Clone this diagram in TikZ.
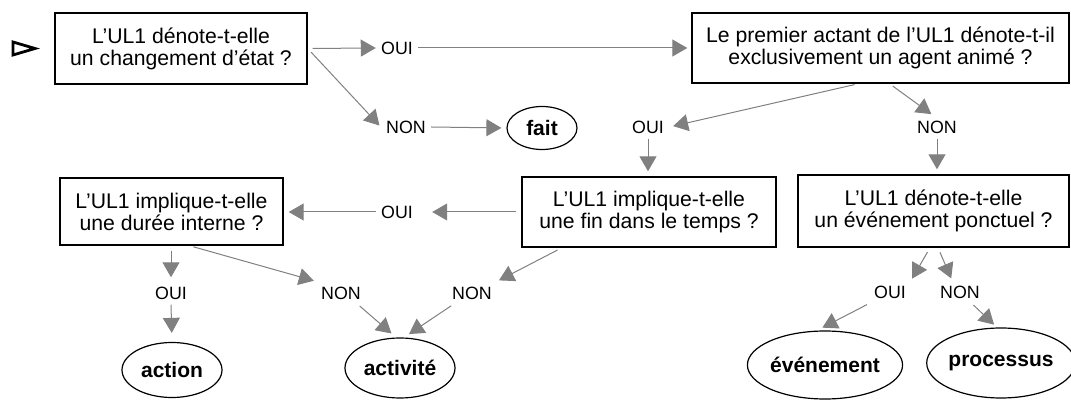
\documentclass[tikz,border=0pt]{standalone}
\usepackage{fontspec}
\setmainfont{Liberation Sans}
\usetikzlibrary{arrows.meta,shapes.geometric}
\definecolor{linkgray}{gray}{0.5}

\begin{document}
\begin{tikzpicture}[x=0.5pt,y=-0.5pt,
    question/.style={draw, line width=0.7pt, align=center, inner sep=0pt,
      font=\fontsize{10.6}{11}\selectfont},
    answer/.style={inner sep=2.5pt, font=\fontsize{8.9}{10}\selectfont},
    result/.style={draw, ellipse, line width=0.6pt, inner sep=0pt,
      font=\fontsize{10.5}{12}\selectfont\bfseries},
    link/.style={draw=linkgray, line width=0.5pt, -{Triangle[length=7.5pt,width=8.5pt]}}]
    \useasboundingbox (0,0) rectangle (1071,400);

    \draw[line width=1.4pt, line join=miter] (13,42) -- (35,48.5) -- (13,55) -- cycle;

    \node[question, minimum width=126pt, minimum height=35.5pt] (q1) at (181,48.5)
      {L’UL1 dénote-t-elle\\un changement d’état ?};
    \node[question, minimum width=188.5pt, minimum height=35pt] (q2) at (880.5,48)
      {Le premier actant de l’UL1 dénote-t-il\\exclusivement un agent animé ?};
    \node[question, minimum width=127pt, minimum height=35pt] (q3) at (649,212)
      {L’UL1 implique-t-elle\\une fin dans le temps ?};
    \node[question, minimum width=135.5pt, minimum height=36pt] (q4) at (933.5,211)
      {L’UL1 dénote-t-elle\\un événement ponctuel ?};
    \node[question, minimum width=111.5pt, minimum height=33.5pt] (q5) at (171.5,211.5)
      {L’UL1 implique-t-elle\\une durée interne ?};

    \node[answer] (a1) at (397,48) {OUI};
    \node[answer] (n1) at (406,127) {NON};
    \node[answer] (a2) at (648,127) {OUI};
    \node[answer] (n2) at (937,127) {NON};
    \node[answer] (a3) at (397,212) {OUI};
    \node[answer] (a4) at (171,293) {OUI};
    \node[answer] (n3) at (341,293) {NON};
    \node[answer] (n4) at (472,293) {NON};
    \node[answer] (a5) at (890,292) {OUI};
    \node[answer] (n5) at (960,292) {NON};

    \node[result, minimum width=35pt, minimum height=21.5pt] (fait) at (542,128) {fait};
    \node[result, minimum width=50pt, minimum height=27.5pt] (action) at (172,370) {action};
    \node[result, minimum width=55pt, minimum height=30pt] (activite) at (400,368) {activité};
    \node[result, minimum width=75pt, minimum height=34pt] (evenement) at (825,365) {événement};
    \node[result, minimum width=69pt, minimum height=35pt] (processus) at (1001,363) {processus};

    \draw[link, shorten <=2.5pt] (q1.east) -- (a1.west);
    \draw[link, shorten >=2pt] (a1.east) -- (q2.west);
    \draw[link, shorten <=2.5pt, shorten >=1pt] (q1.east) -- (n1.west);
    \draw[link, shorten >=2.5pt] (n1.east) -- (fait.west);
    \draw[link, shorten <=2pt, shorten >=2pt] ([xshift=-11pt]q2.south) -- (a2.east);
    \draw[link, shorten <=2pt, shorten >=1pt] ([xshift=4.5pt]q2.south) -- ([xshift=-2pt]n2.north);
    \draw[link, shorten >=2.5pt] (a2.south) -- (a2.south |- q3.north);
    \draw[link, shorten >=2.5pt] (n2.south) -- (n2.south |- q4.north);
    \draw[link, shorten <=2.5pt, shorten >=7pt] (q3.west) -- (a3.east);
    \draw[link, shorten >=2.5pt] (a3.west) -- (a3.west -| q5.east);
    \draw[link, shorten <=2.5pt, shorten >=2pt] (a4.north |- q5.south) -- (a4.north);
    \draw[link, shorten >=4.5pt] (a4.south) -- (action.north);
    \draw[link, shorten <=2pt, shorten >=1pt] ([xshift=9pt]q5.south) -- (n3.north west);
    \draw[link, shorten <=1pt, shorten >=3pt] ([xshift=-4pt]n3.south east) -- ([xshift=-2pt]activite.north);
    \draw[link, shorten <=2.5pt, shorten >=1pt] ([xshift=-43.5pt]q3.south) -- (n4.north east);
    \draw[link, shorten <=1pt, shorten >=3pt] ([xshift=3pt]n4.south west) -- ([xshift=2pt]activite.north);
    \draw[link, shorten <=2.5pt, shorten >=1pt] ([xshift=-1.75pt]q4.south) -- (a5.north east);
    \draw[link, shorten <=2.5pt, shorten >=1pt] ([xshift=2.25pt]q4.south) -- ([xshift=-4pt]n5.north);
    \draw[link, shorten <=1pt, shorten >=3pt] (a5.south west) -- ([xshift=-4pt]evenement.north);
    \draw[link, shorten <=1pt, shorten >=2pt] ([xshift=6pt]n5.south) -- ([xshift=-2pt]processus.north);
\end{tikzpicture}
\end{document}
